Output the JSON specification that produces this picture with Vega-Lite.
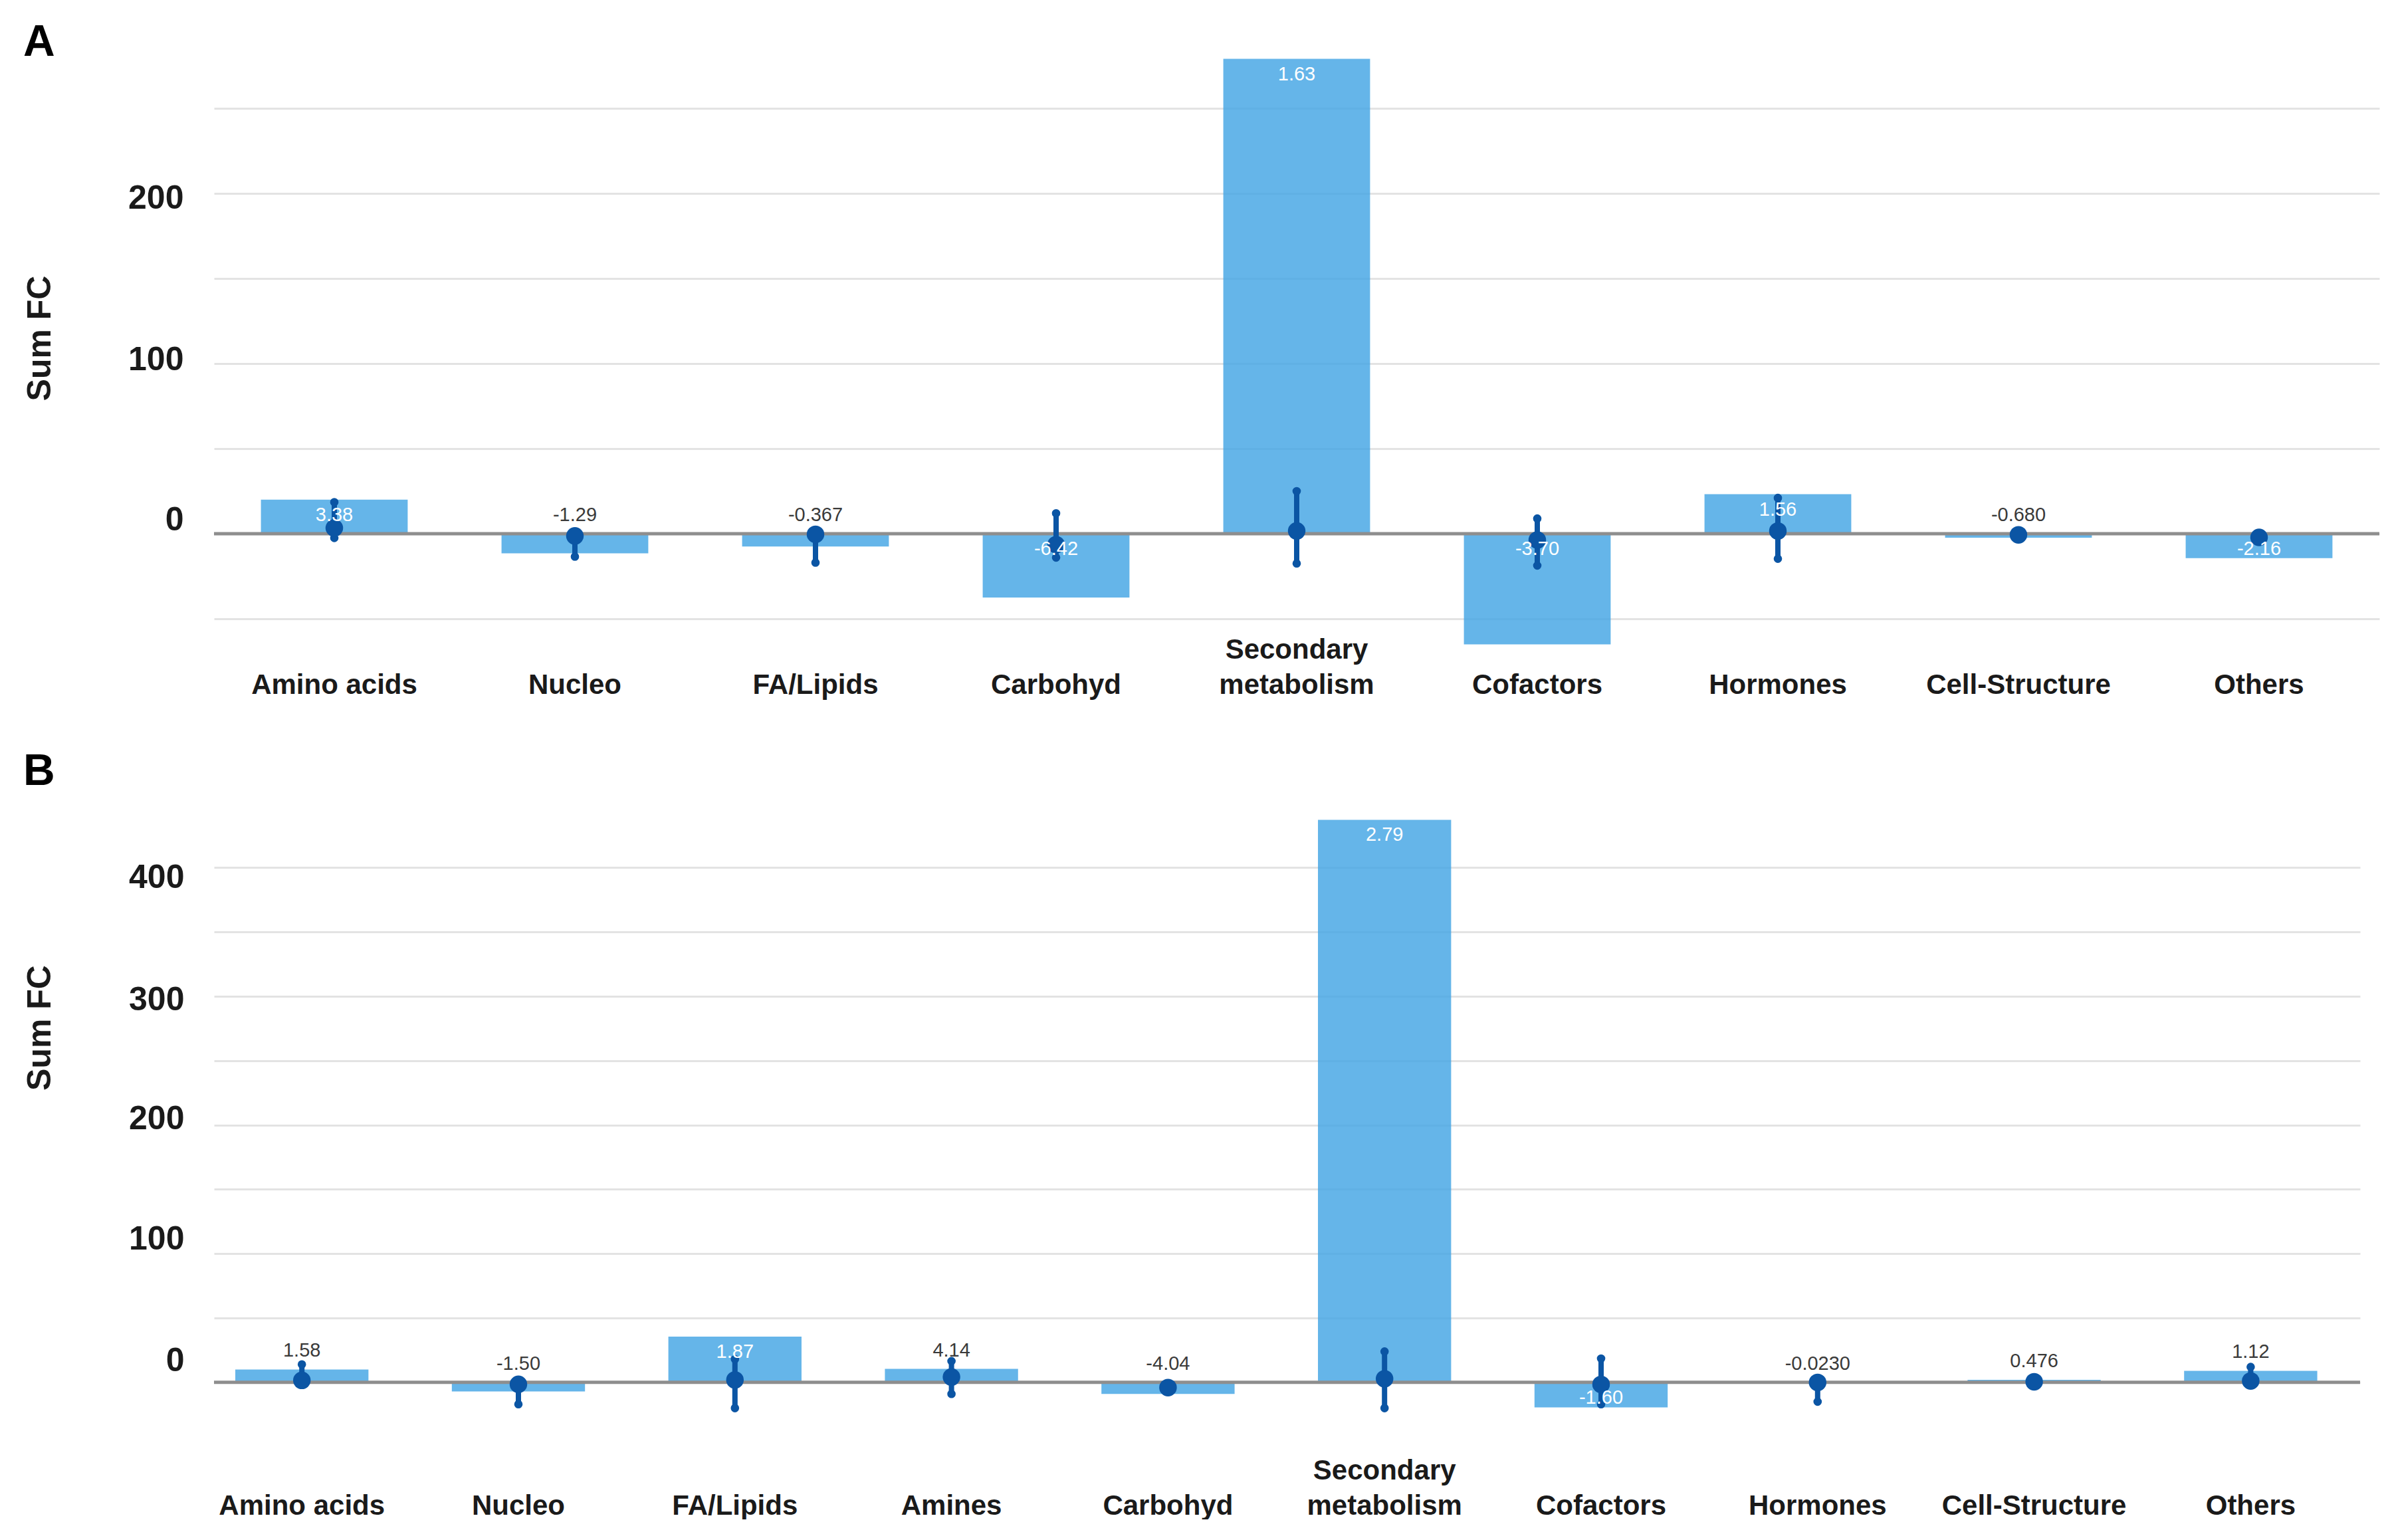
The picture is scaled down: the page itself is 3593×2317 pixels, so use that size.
{
  "$schema": "https://vega.github.io/schema/vega-lite/v6.json",
  "background": "white",
  "padding": {"left": 35, "top": 31, "right": 0, "bottom": 0},
  "config": {"view": {"stroke": null}, "font": "Liberation Sans"},
  "datasets": {
    "a": [
      {"category": "Amino acids", "sum": 20, "mean": 3.38, "lo": -2.5, "hi": 18.5, "label": "3.38"},
      {"category": "Nucleo", "sum": -11.5, "mean": -1.29, "lo": -13.5, "hi": -1.29, "label": "-1.29"},
      {"category": "FA/Lipids", "sum": -7.5, "mean": -0.367, "lo": -17, "hi": -0.367, "label": "-0.367"},
      {"category": "Carbohyd", "sum": -37.5, "mean": -6.42, "lo": -14, "hi": 12, "label": "-6.42"},
      {"category": "Secondary metabolism", "sum": 279, "mean": 1.63, "lo": -17.5, "hi": 25, "label": "1.63"},
      {"category": "Cofactors", "sum": -65, "mean": -3.7, "lo": -18.7, "hi": 8.9, "label": "-3.70"},
      {"category": "Hormones", "sum": 23.2, "mean": 1.56, "lo": -14.7, "hi": 21, "label": "1.56"},
      {"category": "Cell-Structure", "sum": -2.4, "mean": -0.68, "lo": -0.68, "hi": -0.68, "label": "-0.680"},
      {"category": "Others", "sum": -14.4, "mean": -2.16, "lo": -3.5, "hi": -2.16, "label": "-2.16"}
    ],
    "b": [
      {"category": "Amino acids", "sum": 10, "mean": 1.58, "lo": 1.58, "hi": 14, "label": "1.58"},
      {"category": "Nucleo", "sum": -7, "mean": -1.5, "lo": -17, "hi": -1.5, "label": "-1.50"},
      {"category": "FA/Lipids", "sum": 35.5, "mean": 1.87, "lo": -20, "hi": 18, "label": "1.87"},
      {"category": "Amines", "sum": 10.5, "mean": 4.14, "lo": -9, "hi": 16.5, "label": "4.14"},
      {"category": "Carbohyd", "sum": -9, "mean": -4.04, "lo": -4.04, "hi": -1, "label": "-4.04"},
      {"category": "Secondary metabolism", "sum": 437, "mean": 2.79, "lo": -20, "hi": 24, "label": "2.79"},
      {"category": "Cofactors", "sum": -19.5, "mean": -1.6, "lo": -17, "hi": 18.5, "label": "-1.60"},
      {"category": "Hormones", "sum": -0.5, "mean": -0.023, "lo": -15, "hi": 0, "label": "-0.0230"},
      {"category": "Cell-Structure", "sum": 2, "mean": 0.476, "lo": 0.476, "hi": 0.476, "label": "0.476"},
      {"category": "Others", "sum": 9, "mean": 1.12, "lo": 1.12, "hi": 12, "label": "1.12"}
    ]
  },
  "spacing": 77,
  "vconcat": [
    {
      "title": {"text": "A", "anchor": "start", "frame": "bounds", "fontSize": 66, "fontWeight": "bold", "baseline": "alphabetic", "offset": -64, "color": "#000000", "font": "Liberation Sans"},
      "width": 3258,
      "height": 845,
      "data": {"name": "a"},
      "layer": [
        {
          "mark": {"type": "bar", "color": "#3FA2E3", "opacity": 0.8},
          "encoding": {
            "x": {"field": "category", "type": "nominal", "sort": null,
              "scale": {"paddingInner": 0.39, "paddingOuter": 0.195, "align": 0.5},
              "axis": {"title": null, "labelAngle": 0, "labelFont": "Liberation Sans", "labelFontSize": 42, "labelFontWeight": "bold", "labelColor": "#1a1a1a", "labelPadding": 26, "labelBaseline": "top", "labelLineHeight": 53, "labelLimit": 0, "domain": false, "ticks": false, "grid": false,
                "labelExpr": "datum.value == 'Secondary metabolism' ? ['Secondary', 'metabolism'] : ['', datum.label]"}},
            "y": {"field": "sum", "type": "quantitative",
              "scale": {"domain": [-50, 280], "nice": false, "zero": false},
              "axis": {"title": "Sum FC", "titleFont": "Liberation Sans", "titleFontSize": 50, "titleFontWeight": "bold", "titleColor": "#1a1a1a", "titleX": -247, "titleBaseline": "alphabetic",
                "values": [-50, 0, 50, 100, 150, 200, 250],
                "labelExpr": "datum.value >= 0 && datum.value % 100 === 0 ? datum.label : ''",
                "labelOffset": {"condition": [{"test": "datum.value === 0", "value": -20}, {"test": "datum.value === 100", "value": -5}, {"test": "datum.value === 200", "value": 8}], "value": 0},
                "labelFont": "Liberation Sans", "labelFontSize": 50, "labelFontWeight": "bold", "labelColor": "#1a1a1a", "labelPadding": 46,
                "domain": false, "ticks": false, "gridColor": "#E3E3E3", "gridWidth": 3}}
          }
        },
        {
          "data": {"values": [{}]},
          "mark": {"type": "rule", "color": "#8E8E8E", "strokeWidth": 5},
          "encoding": {"y": {"datum": 0, "type": "quantitative"}}
        },
        {
          "mark": {"type": "rule", "color": "#0B55A4", "strokeWidth": 8, "strokeCap": "round"},
          "encoding": {
            "x": {"field": "category", "type": "nominal", "sort": null},
            "y": {"field": "lo", "type": "quantitative"},
            "y2": {"field": "hi"}
          }
        },
        {
          "mark": {"type": "point", "filled": true, "color": "#0B55A4", "size": 160, "opacity": 1},
          "encoding": {
            "x": {"field": "category", "type": "nominal", "sort": null},
            "y": {"field": "lo", "type": "quantitative"}
          }
        },
        {
          "mark": {"type": "point", "filled": true, "color": "#0B55A4", "size": 160, "opacity": 1},
          "encoding": {
            "x": {"field": "category", "type": "nominal", "sort": null},
            "y": {"field": "hi", "type": "quantitative"}
          }
        },
        {
          "mark": {"type": "point", "filled": true, "color": "#0B55A4", "size": 700, "opacity": 1},
          "encoding": {
            "x": {"field": "category", "type": "nominal", "sort": null},
            "y": {"field": "mean", "type": "quantitative"}
          }
        },
        {
          "transform": [{"filter": "abs(datum.sum) > 13 && datum.sum > 0"}],
          "mark": {"type": "text", "color": "white", "fontSize": 29, "baseline": "top", "dy": 9, "font": "Liberation Sans"},
          "encoding": {
            "x": {"field": "category", "type": "nominal", "sort": null},
            "y": {"field": "sum", "type": "quantitative"},
            "text": {"field": "label"}
          }
        },
        {
          "transform": [{"filter": "abs(datum.sum) > 13 && datum.sum < 0"}],
          "mark": {"type": "text", "color": "white", "fontSize": 29, "baseline": "top", "dy": 9, "font": "Liberation Sans"},
          "encoding": {
            "x": {"field": "category", "type": "nominal", "sort": null},
            "y": {"datum": 0, "type": "quantitative"},
            "text": {"field": "label"}
          }
        },
        {
          "transform": [{"filter": "abs(datum.sum) <= 13 && datum.sum > 0"}],
          "mark": {"type": "text", "color": "#3a3a3a", "fontSize": 29, "baseline": "bottom", "dy": -13, "font": "Liberation Sans"},
          "encoding": {
            "x": {"field": "category", "type": "nominal", "sort": null},
            "y": {"field": "sum", "type": "quantitative"},
            "text": {"field": "label"}
          }
        },
        {
          "transform": [{"filter": "abs(datum.sum) <= 13 && datum.sum <= 0"}],
          "mark": {"type": "text", "color": "#3a3a3a", "fontSize": 29, "baseline": "bottom", "dy": -13, "font": "Liberation Sans"},
          "encoding": {
            "x": {"field": "category", "type": "nominal", "sort": null},
            "y": {"datum": 0, "type": "quantitative"},
            "text": {"field": "label"}
          }
        }
      ]
    },
    {
      "title": {"text": "B", "anchor": "start", "frame": "bounds", "fontSize": 66, "fontWeight": "bold", "baseline": "alphabetic", "offset": -29, "color": "#000000", "font": "Liberation Sans"},
      "width": 3229,
      "height": 949,
      "data": {"name": "b"},
      "layer": [
        {
          "mark": {"type": "bar", "color": "#3FA2E3", "opacity": 0.8},
          "encoding": {
            "x": {"field": "category", "type": "nominal", "sort": null,
              "scale": {"paddingInner": 0.385, "paddingOuter": 0.148, "align": 0.332},
              "axis": {"title": null, "labelAngle": 0, "labelFont": "Liberation Sans", "labelFontSize": 42, "labelFontWeight": "bold", "labelColor": "#1a1a1a", "labelPadding": 25, "labelBaseline": "top", "labelLineHeight": 53, "labelLimit": 0, "domain": false, "ticks": false, "grid": false,
                "labelExpr": "datum.value == 'Secondary metabolism' ? ['Secondary', 'metabolism'] : ['', datum.label]"}},
            "y": {"field": "sum", "type": "quantitative",
              "scale": {"domain": [-45, 445], "nice": false, "zero": false},
              "axis": {"title": "Sum FC", "titleFont": "Liberation Sans", "titleFontSize": 50, "titleFontWeight": "bold", "titleColor": "#1a1a1a", "titleX": -247, "titleY": 328, "titleBaseline": "alphabetic",
                "values": [0, 50, 100, 150, 200, 250, 300, 350, 400],
                "labelExpr": "datum.value % 100 === 0 ? datum.label : ''",
                "labelOffset": {"condition": [{"test": "datum.value === 0", "value": -32}, {"test": "datum.value === 100", "value": -22}, {"test": "datum.value === 200", "value": -9}, {"test": "datum.value === 300", "value": 6}, {"test": "datum.value === 400", "value": 15}], "value": 0},
                "labelFont": "Liberation Sans", "labelFontSize": 50, "labelFontWeight": "bold", "labelColor": "#1a1a1a", "labelPadding": 45,
                "domain": false, "ticks": false, "gridColor": "#E3E3E3", "gridWidth": 3}}
          }
        },
        {
          "data": {"values": [{}]},
          "mark": {"type": "rule", "color": "#8E8E8E", "strokeWidth": 5},
          "encoding": {"y": {"datum": 0, "type": "quantitative"}}
        },
        {
          "mark": {"type": "rule", "color": "#0B55A4", "strokeWidth": 8, "strokeCap": "round"},
          "encoding": {
            "x": {"field": "category", "type": "nominal", "sort": null},
            "y": {"field": "lo", "type": "quantitative"},
            "y2": {"field": "hi"}
          }
        },
        {
          "mark": {"type": "point", "filled": true, "color": "#0B55A4", "size": 160, "opacity": 1},
          "encoding": {
            "x": {"field": "category", "type": "nominal", "sort": null},
            "y": {"field": "lo", "type": "quantitative"}
          }
        },
        {
          "mark": {"type": "point", "filled": true, "color": "#0B55A4", "size": 160, "opacity": 1},
          "encoding": {
            "x": {"field": "category", "type": "nominal", "sort": null},
            "y": {"field": "hi", "type": "quantitative"}
          }
        },
        {
          "mark": {"type": "point", "filled": true, "color": "#0B55A4", "size": 700, "opacity": 1},
          "encoding": {
            "x": {"field": "category", "type": "nominal", "sort": null},
            "y": {"field": "mean", "type": "quantitative"}
          }
        },
        {
          "transform": [{"filter": "abs(datum.sum) > 15 && datum.sum > 0"}],
          "mark": {"type": "text", "color": "white", "fontSize": 29, "baseline": "top", "dy": 9, "font": "Liberation Sans"},
          "encoding": {
            "x": {"field": "category", "type": "nominal", "sort": null},
            "y": {"field": "sum", "type": "quantitative"},
            "text": {"field": "label"}
          }
        },
        {
          "transform": [{"filter": "abs(datum.sum) > 15 && datum.sum < 0"}],
          "mark": {"type": "text", "color": "white", "fontSize": 29, "baseline": "top", "dy": 9, "font": "Liberation Sans"},
          "encoding": {
            "x": {"field": "category", "type": "nominal", "sort": null},
            "y": {"datum": 0, "type": "quantitative"},
            "text": {"field": "label"}
          }
        },
        {
          "transform": [{"filter": "abs(datum.sum) <= 15 && datum.sum > 0"}],
          "mark": {"type": "text", "color": "#3a3a3a", "fontSize": 29, "baseline": "bottom", "dy": -13, "font": "Liberation Sans"},
          "encoding": {
            "x": {"field": "category", "type": "nominal", "sort": null},
            "y": {"field": "sum", "type": "quantitative"},
            "text": {"field": "label"}
          }
        },
        {
          "transform": [{"filter": "abs(datum.sum) <= 15 && datum.sum <= 0"}],
          "mark": {"type": "text", "color": "#3a3a3a", "fontSize": 29, "baseline": "bottom", "dy": -13, "font": "Liberation Sans"},
          "encoding": {
            "x": {"field": "category", "type": "nominal", "sort": null},
            "y": {"datum": 0, "type": "quantitative"},
            "text": {"field": "label"}
          }
        }
      ]
    }
  ]
}
